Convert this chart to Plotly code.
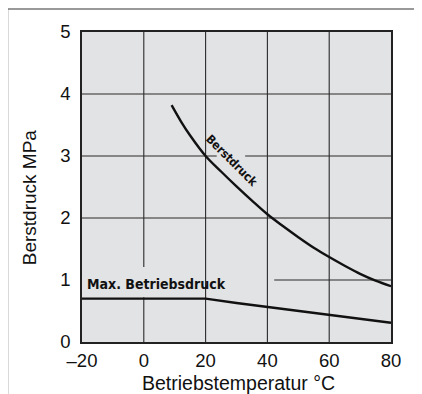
import plotly.graph_objects as go

# Berstdruck curve (burst pressure) --------------------------------------------
burst_temp = [9, 12, 15, 20, 25, 30, 35, 40, 45, 50, 55, 60, 65, 70, 75, 80]
burst_mpa = [3.82, 3.56, 3.33, 3.0, 2.75, 2.51, 2.28, 2.06, 1.87, 1.69,
             1.52, 1.37, 1.23, 1.10, 0.99, 0.90]
# Max. Betriebsdruck (max operating pressure) ---------------------------------
oper_temp = [-20, 0, 20, 30, 40, 50, 60, 70, 80]
oper_mpa = [0.70, 0.70, 0.70, 0.63, 0.565, 0.50, 0.44, 0.37, 0.31]
# Ticks -----------------------------------------------------------------------
x_ticks = [-20, 0, 20, 40, 60, 80]
x_labels = ['\u201320', '0', '20', '40', '60', '80']
y_ticks = [0, 1, 2, 3, 4, 5]

GRID = '#2a2a2a'
NARROW = 'DejaVu Sans Condensed, Liberation Sans Narrow, Liberation Sans, sans-serif'

fig = go.Figure()
fig.add_trace(go.Scatter(
    x=burst_temp, y=burst_mpa, mode='lines',
    line=dict(color='#111111', width=2.4, shape='spline'), showlegend=False
))
fig.add_trace(go.Scatter(
    x=oper_temp, y=oper_mpa, mode='lines',
    line=dict(color='#111111', width=2.4), showlegend=False
))

# grid segments (some are broken around the labels) ---------------------------
segs = [
    ('v', 0, 1.21, 5), ('v', 0, 0, 0.72),
    ('v', 20, 0, 5), ('v', 40, 0, 5), ('v', 60, 0, 5),
    ('h', 4, -20, 80), ('h', 2, -20, 80),
    ('h', 3, -20, 23.6), ('h', 3, 32.8, 80),
    ('h', 1, 42.2, 80),
]
shapes = []
for kind, pos, a, b in segs:
    if kind == 'v':
        shapes.append(dict(type='line', xref='x', yref='y', x0=pos, x1=pos,
                           y0=a, y1=b, line=dict(color=GRID, width=1.1),
                           layer='below'))
    else:
        shapes.append(dict(type='line', xref='x', yref='y', x0=a, x1=b,
                           y0=pos, y1=pos, line=dict(color=GRID, width=1.1),
                           layer='below'))
# outer frame (top + left only)
shapes.append(dict(type='line', xref='paper', yref='paper',
                   x0=-0.243, x1=1.11, y0=1.074, y1=1.074,
                   line=dict(color='#777777', width=1.5)))
shapes.append(dict(type='line', xref='paper', yref='paper',
                   x0=-0.241, x1=-0.241, y0=-0.2, y1=1.074,
                   line=dict(color='#777777', width=1.5)))

# the page body adds an 8px offset, so the margins are shifted to compensate
fig.update_layout(
    width=422, height=394,
    margin=dict(l=74, r=39, t=24, b=60, pad=0),
    paper_bgcolor='white', plot_bgcolor='#e2e3e5',
    font=dict(family='Liberation Sans, Arial, sans-serif', size=18.5,
              color='#111111'),
    shapes=shapes,
    annotations=[
        dict(text='<b>Max. Betriebsdruck</b>', x=-18.9, y=0.93,
             xref='x', yref='y', xanchor='left', yanchor='middle',
             showarrow=False, font=dict(family=NARROW, size=14)),
        dict(text='<b>Berstdruck</b>', x=28.6, y=2.92,
             xref='x', yref='y', textangle=45, showarrow=False,
             font=dict(family=NARROW, size=12)),
        dict(text='Betriebstemperatur \u00b0C', x=0.505, y=-0.133,
             xref='paper', yref='paper', xanchor='center', yanchor='middle',
             showarrow=False, font=dict(size=19.5)),
        dict(text='Berstdruck MPa', x=-0.1715, y=0.467, textangle=-90,
             xref='paper', yref='paper', xanchor='center', yanchor='middle',
             showarrow=False, font=dict(size=19)),
    ],
)
fig.update_xaxes(
    range=[-20, 80], tickvals=x_ticks, ticktext=x_labels, automargin=False,
    showgrid=False, zeroline=False, ticks='', ticklabelstandoff=1,
    showline=True, linecolor='#222222', linewidth=1.5, mirror=True,
)
fig.update_yaxes(
    range=[0, 5], tickvals=y_ticks, automargin=False,
    showgrid=False, zeroline=False, ticks='', ticklabelstandoff=6,
    showline=True, linecolor='#222222', linewidth=1.5, mirror=True,
)
fig.write_html('out.html')
